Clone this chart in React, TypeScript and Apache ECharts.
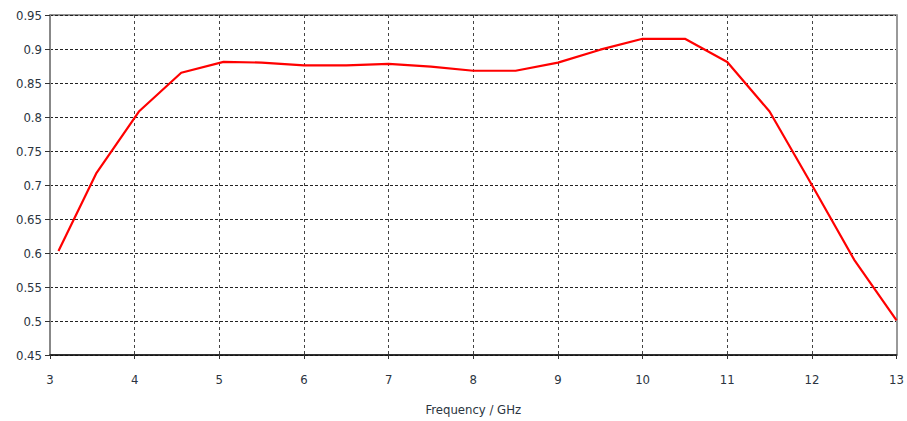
import React, { useEffect, useRef } from "react";
import * as echarts from "echarts";

const frequencies = [3.1, 3.55, 4.05, 4.55, 5.05, 5.5, 6.0, 6.5, 7.0, 7.5, 8.0, 8.5, 9.0, 9.5, 10.0, 10.5, 11.0, 11.5, 12.0, 12.5, 13.0];
const efficiency = [0.603, 0.718, 0.808, 0.865, 0.881, 0.880, 0.876, 0.876, 0.878, 0.874, 0.868, 0.868, 0.880, 0.899, 0.915, 0.915, 0.881, 0.808, 0.700, 0.590, 0.501];
const xAxisName = "Frequency / GHz";

export default function App() {
  const ref = useRef<HTMLDivElement>(null);
  useEffect(() => {
    if (!ref.current) return;
    const chart = echarts.init(ref.current, null, { renderer: "svg" });
    const labelStyle = { color: "#2b3440", fontSize: 13, fontFamily: "DejaVu Sans Condensed, Liberation Sans, sans-serif" };
    chart.setOption({
      animation: false,
      backgroundColor: "#ffffff",
      grid: { left: 50, right: 8, top: 15, bottom: 66, show: true, borderColor: "#222", borderWidth: 1 },
      xAxis: {
        type: "value",
        min: 3,
        max: 13,
        interval: 1,
        name: xAxisName,
        nameLocation: "middle",
        nameGap: 48,
        nameTextStyle: { ...labelStyle, fontSize: 13 },
        axisLine: { show: true, lineStyle: { color: "#111", width: 1.5 } },
        axisTick: { show: true, length: 4, lineStyle: { color: "#333" } },
        axisLabel: { ...labelStyle, margin: 18 },
        splitLine: { show: true, lineStyle: { color: "#444", type: [3, 3], width: 1 } },
      },
      yAxis: [
        {
          type: "value",
          min: 0.45,
          max: 0.95,
          interval: 0.05,
          axisLine: { show: true, lineStyle: { color: "#888", width: 2 } },
          axisTick: { show: true, length: 5, lineStyle: { color: "#333" } },
          axisLabel: { ...labelStyle, margin: 8, formatter: (v: number) => String(parseFloat(v.toFixed(2))) },
          splitLine: { show: true, lineStyle: { color: "#222", type: [3, 2], width: 1 } },
        },
        {
          type: "value",
          position: "right",
          min: 0.45,
          max: 0.95,
          interval: 0.05,
          axisLine: { show: true, lineStyle: { color: "#999", width: 2 } },
          axisTick: { show: false },
          axisLabel: { show: false },
          splitLine: { show: false },
        },
      ],
      series: [
        {
          type: "line",
          data: frequencies.map((f, i) => [f, efficiency[i]]),
          showSymbol: false,
          lineStyle: { color: "#ff0000", width: 2.2 },
          itemStyle: { color: "#ff0000" },
        },
      ],
    });
    return () => chart.dispose();
  }, []);
  return <div ref={ref} style={{ width: 907, height: 421, position: "absolute", left: 0, top: 0 }} />;
}
